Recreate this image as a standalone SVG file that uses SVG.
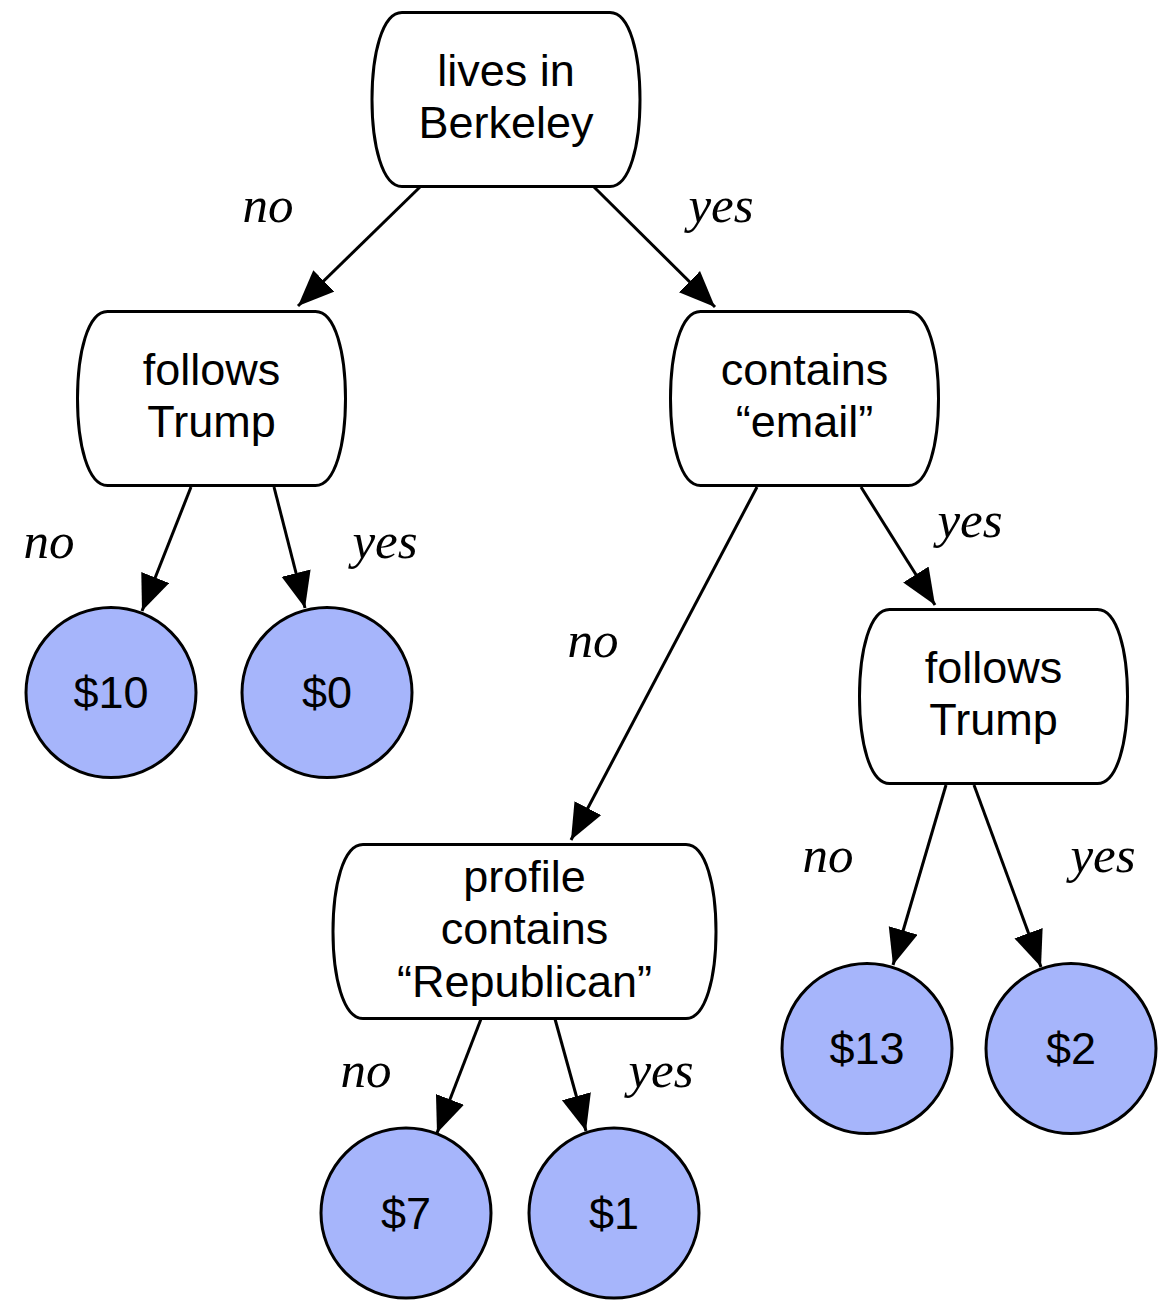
<svg xmlns="http://www.w3.org/2000/svg" width="1164" height="1300" viewBox="0 0 1164 1300">
<style>
.box{fill:#fff;stroke:#000;stroke-width:3}
.leaf{fill:#a6b5fb;stroke:#000;stroke-width:3}
.t{font-family:"Liberation Sans",Arial,sans-serif;font-size:45px;text-anchor:middle;fill:#000}
.lbl{font-family:"Liberation Serif","Times New Roman",serif;font-style:italic;font-size:51px;text-anchor:middle;fill:#000}
.edge{stroke:#000;stroke-width:3;fill:none;marker-end:url(#ah)}
</style>
<defs>
<marker id="ah" markerUnits="userSpaceOnUse" markerWidth="38" markerHeight="32" refX="36" refY="15" orient="auto">
<path d="M0,0 L36,15 L0,30 Z" fill="#000"/>
</marker>
<path id="dec" d="M -104,-87 H 104 C 124,-87 134,-45 134,0 C 134,45 124,87 104,87 H -104 C -124,87 -134,45 -134,0 C -134,-45 -124,-87 -104,-87 Z"/>
</defs>
<rect width="1164" height="1300" fill="#fff"/>
<g id="connectors">
<line class="edge" x1="420" y1="187" x2="298" y2="306"/>
<line class="edge" x1="594" y1="187" x2="715" y2="307"/>
<line class="edge" x1="191" y1="487" x2="142" y2="611"/>
<line class="edge" x1="274" y1="487" x2="305" y2="608"/>
<line class="edge" x1="757" y1="487" x2="571" y2="840"/>
<line class="edge" x1="861" y1="487" x2="935" y2="605"/>
<line class="edge" x1="946" y1="785" x2="893" y2="965"/>
<line class="edge" x1="974" y1="785" x2="1041" y2="967"/>
<line class="edge" x1="481" y1="1019" x2="437" y2="1133"/>
<line class="edge" x1="555" y1="1019" x2="586" y2="1131"/>
<text class="lbl" x="268" y="222">no</text>
<text class="lbl" x="721" y="222">yes</text>
<text class="lbl" x="49" y="558">no</text>
<text class="lbl" x="385" y="558">yes</text>
<text class="lbl" x="593" y="657">no</text>
<text class="lbl" x="970" y="537">yes</text>
<text class="lbl" x="828" y="872">no</text>
<text class="lbl" x="1103" y="872">yes</text>
<text class="lbl" x="366" y="1087">no</text>
<text class="lbl" x="661" y="1087">yes</text>
</g>
<g id="n-root" transform="translate(506,99.5)">
<use href="#dec" class="box"/>
<text class="t" y="-13.5">lives in</text>
<text class="t" y="38.5">Berkeley</text>
</g>
<g id="n-follows-left" transform="translate(211.5,398.5)">
<use href="#dec" class="box"/>
<text class="t" y="-13.5">follows</text>
<text class="t" y="38.5">Trump</text>
</g>
<g id="n-email" transform="translate(804.5,398.5)">
<use href="#dec" class="box"/>
<text class="t" y="-13.5">contains</text>
<text class="t" y="38.5">“email”</text>
</g>
<g id="n-follows-right" transform="translate(993.5,696.5)">
<use href="#dec" class="box"/>
<text class="t" y="-13.5">follows</text>
<text class="t" y="38.5">Trump</text>
</g>
<g id="n-profile" transform="translate(524.5,931.5)">
<path class="box" d="M -161.5,-87 H 161.5 C 181.5,-87 191.5,-45 191.5,0 C 191.5,45 181.5,87 161.5,87 H -161.5 C -181.5,87 -191.5,45 -191.5,0 C -191.5,-45 -181.5,-87 -161.5,-87 Z"/>
<text class="t" y="-39.5">profile</text>
<text class="t" y="12.5">contains</text>
<text class="t" y="65.5">“Republican”</text>
</g>
<g id="leaf-10"><circle class="leaf" cx="111" cy="692.5" r="85"/><text class="t" x="111" y="708">$10</text></g>
<g id="leaf-0"><circle class="leaf" cx="327" cy="692.5" r="85"/><text class="t" x="327" y="708">$0</text></g>
<g id="leaf-7"><circle class="leaf" cx="406" cy="1213" r="85"/><text class="t" x="406" y="1229">$7</text></g>
<g id="leaf-1"><circle class="leaf" cx="614" cy="1213" r="85"/><text class="t" x="614" y="1229">$1</text></g>
<g id="leaf-13"><circle class="leaf" cx="867" cy="1048.5" r="85"/><text class="t" x="867" y="1064">$13</text></g>
<g id="leaf-2"><circle class="leaf" cx="1071" cy="1048.5" r="85"/><text class="t" x="1071" y="1064">$2</text></g>
</svg>
